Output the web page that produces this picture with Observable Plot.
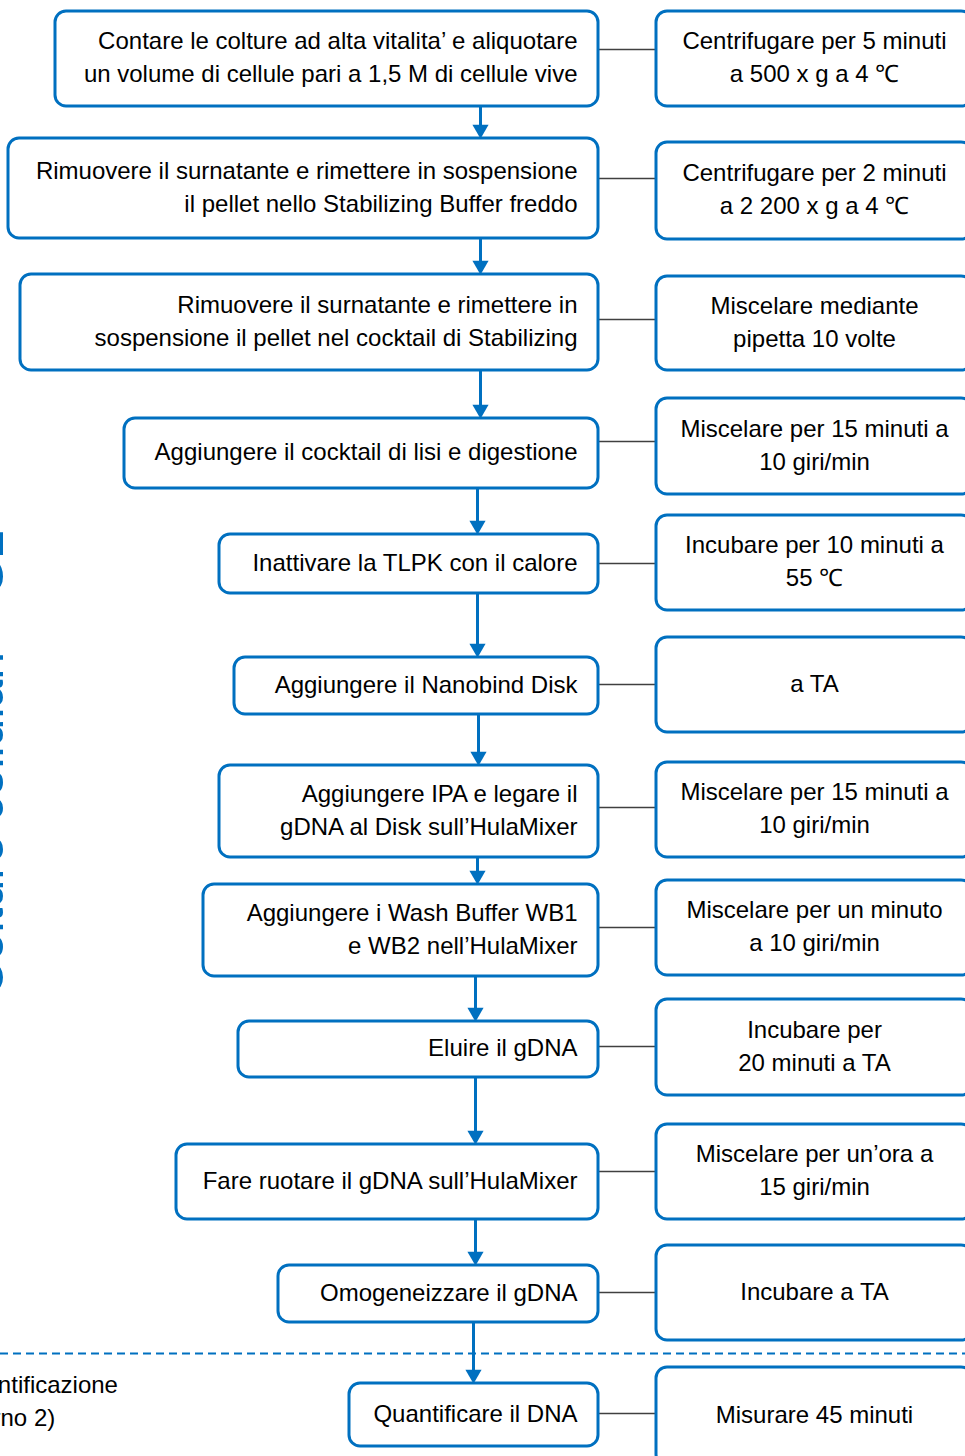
<!DOCTYPE html>
<html><head><meta charset="utf-8">
<script src="https://cdn.jsdelivr.net/npm/d3@7"></script>
<script src="https://cdn.jsdelivr.net/npm/@observablehq/plot@0.6"></script>
<style>body{margin:0;background:#fff;} svg{display:block;}</style>
</head><body><div id="chart"></div>
<script>
// ---- data ----
const leftLabels = [
  "Contare le colture ad alta vitalita’ e aliquotare\nun volume di cellule pari a 1,5 M di cellule vive",
  "Rimuovere il surnatante e rimettere in sospensione\nil pellet nello Stabilizing Buffer freddo",
  "Rimuovere il surnatante e rimettere in\nsospensione il pellet nel cocktail di Stabilizing",
  "Aggiungere il cocktail di lisi e digestione",
  "Inattivare la TLPK con il calore",
  "Aggiungere il Nanobind Disk",
  "Aggiungere IPA e legare il\ngDNA al Disk sull’HulaMixer",
  "Aggiungere i Wash Buffer WB1\ne WB2 nell’HulaMixer",
  "Eluire il gDNA",
  "Fare ruotare il gDNA sull’HulaMixer",
  "Omogeneizzare il gDNA",
  "Quantificare il DNA"
];
const leftX1 = [55, 8, 20, 124, 219, 234, 219, 203, 238, 176, 278, 349];
const leftY1 = [11, 138, 274, 418, 534, 657, 765, 884, 1021, 1144, 1265, 1383];
const leftY2 = [106, 238, 370, 488, 593, 714, 857, 976, 1077, 1219, 1322, 1446];

const rightLabels = [
  "Centrifugare per 5 minuti\na 500 x g a 4 ℃",
  "Centrifugare per 2 minuti\na 2 200 x g a 4 ℃",
  "Miscelare mediante\npipetta 10 volte",
  "Miscelare per 15 minuti a\n10 giri/min",
  "Incubare per 10 minuti a\n55 ℃",
  "a TA",
  "Miscelare per 15 minuti a\n10 giri/min",
  "Miscelare per un minuto\na 10 giri/min",
  "Incubare per\n20 minuti a TA",
  "Miscelare per un’ora a\n15 giri/min",
  "Incubare a TA",
  "Misurare 45 minuti"
];
const rightY1 = [11, 142, 276, 398, 515, 637, 762, 880, 999, 1124, 1245, 1367];
const rightY2 = [106, 239, 370, 494, 610, 732, 857, 975, 1095, 1219, 1340, 1465];

const connectorY = [49, 178, 319, 441, 563, 684, 807, 927, 1046, 1171, 1292, 1413];
const arrowX = [480, 480, 480, 477, 477, 478, 477, 475, 475, 475, 473];

const sideLabel = "Colture cellulari – G2";
const bottomLabel = "Quantificazione\n(giorno 2)";
const dividerY = 1353;

// ---- build tables ----
const BLUE = "#0070C0";
const leftCol = {x1: 598, x2: 656, right: 972};
const left = leftLabels.map((label, i) => ({label, x1: leftX1[i], x2: leftCol.x1, y1: leftY1[i], y2: leftY2[i]}));
const right = rightLabels.map((label, i) => ({label, x1: leftCol.x2, x2: leftCol.right, y1: rightY1[i], y2: rightY2[i]}));
const connectors = connectorY.map(y => ({x1: leftCol.x1, x2: leftCol.x2, y}));
const arrows = arrowX.map((x, i) => ({x, y1: leftY2[i], y2: leftY1[i + 1]}));

const chart = Plot.plot({
  width: 965,
  height: 1456,
  margin: 0,
  x: {domain: [0, 965], range: [0, 965], axis: null},
  y: {domain: [0, 1456], range: [0, 1456], axis: null},
  style: {fontFamily: "'Liberation Sans', Arial, sans-serif", background: "#fff", overflow: "hidden"},
  marks: [
    Plot.ruleY([dividerY], {stroke: BLUE, strokeWidth: 2, strokeDasharray: "8,5"}),
    Plot.link(connectors, {x1: "x1", x2: "x2", y1: "y", y2: "y", stroke: "#404040", strokeWidth: 1.6}),
    Plot.link(arrows, {x1: "x", x2: "x", y1: "y1", y2: d => d.y2 - 8, stroke: BLUE, strokeWidth: 3}),
    Plot.dot(arrows, {x: "x", y: d => d.y2 - 9, symbol: "triangle", r: 6, rotate: 180, fill: BLUE, stroke: "none"}),
    Plot.rect(left, {x1: "x1", x2: "x2", y1: "y1", y2: "y2", rx: 11, fill: "#fff", stroke: BLUE, strokeWidth: 3}),
    Plot.rect(right, {x1: "x1", x2: "x2", y1: "y1", y2: "y2", rx: 11, fill: "#fff", stroke: BLUE, strokeWidth: 3}),
    Plot.text(left, {x: d => d.x2 - 21, y: d => (d.y1 + d.y2) / 2 - 4, text: "label", textAnchor: "end", lineAnchor: "middle", fontSize: 24, lineHeight: 1.38, fill: "#000"}),
    Plot.text(right, {x: d => (d.x1 + d.x2) / 2, y: d => (d.y1 + d.y2) / 2 - 4, text: "label", textAnchor: "middle", lineAnchor: "middle", fontSize: 24, lineHeight: 1.38, fill: "#000"}),
    Plot.text([sideLabel], {x: 2, y: 996, text: d => d, rotate: -90, textAnchor: "start", lineAnchor: "bottom", fontSize: 50, fill: BLUE}),
    Plot.text([bottomLabel], {x: -48, y: 1398, text: d => d, textAnchor: "start", lineAnchor: "middle", fontSize: 24, lineHeight: 1.38, fill: "#000"})
  ]
});
document.getElementById("chart").appendChild(chart);
</script>
</body></html>
